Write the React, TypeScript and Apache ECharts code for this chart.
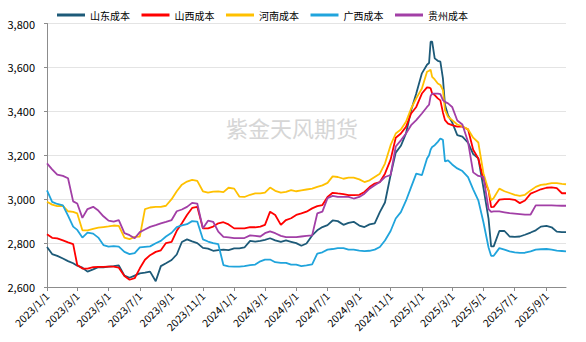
import React, { useEffect, useRef } from 'react';
import * as echarts from 'echarts';

// Sample dates
const dates: string[] = [
  '2023/1/1','2023/1/11','2023/1/21','2023/2/1','2023/2/11','2023/2/21','2023/3/1','2023/3/11','2023/3/21','2023/4/1','2023/4/11','2023/4/21',
  '2023/5/1','2023/5/11','2023/5/21','2023/6/1','2023/6/11','2023/6/21','2023/7/1','2023/7/11','2023/7/21','2023/8/1','2023/8/11','2023/8/21',
  '2023/9/1','2023/9/11','2023/9/21','2023/10/1','2023/10/11','2023/10/21','2023/11/1','2023/11/11','2023/11/21','2023/12/1','2023/12/11','2023/12/21',
  '2024/1/1','2024/1/11','2024/1/21','2024/2/1','2024/2/11','2024/2/21','2024/3/1','2024/3/11','2024/3/21','2024/4/1','2024/4/11','2024/4/21',
  '2024/5/1','2024/5/11','2024/5/21','2024/6/1','2024/6/11','2024/6/21','2024/7/1','2024/7/11','2024/7/21','2024/8/1','2024/8/11','2024/8/21',
  '2024/9/1','2024/9/11','2024/9/21','2024/10/1','2024/10/11','2024/10/21','2024/11/1','2024/11/11','2024/11/21','2024/12/1','2024/12/11','2024/12/21',
  '2025/1/1','2025/1/11','2025/1/15','2025/1/18','2025/1/21','2025/1/26','2025/2/1','2025/2/6','2025/2/11','2025/2/15','2025/2/21',
  '2025/3/1','2025/3/11','2025/3/21','2025/4/1','2025/4/11','2025/4/21','2025/5/1','2025/5/11','2025/5/16','2025/5/21',
  '2025/6/1','2025/6/11','2025/6/21','2025/7/1','2025/7/11','2025/7/21','2025/8/1','2025/8/11','2025/8/21',
  '2025/9/1','2025/9/11','2025/9/21','2025/10/1','2025/10/9',
];

const shandong: number[] = [
  2782,2750,2742,2730,2718,2708,2697,2688,2670,2680,2690,2690,2693,2695,2698,2652,2642,2652,
  2662,2665,2670,2626,2695,2708,2723,2748,2805,2817,2808,2800,2778,2775,2765,2768,2770,2768,
  2776,2776,2780,2810,2807,2810,2815,2822,2812,2805,2812,2806,2800,2788,2798,2835,2858,2873,
  2882,2903,2900,2883,2892,2897,2880,2873,2885,2890,2941,2985,3110,3212,3243,3299,3405,3481,
  3573,3612,3620,3717,3717,3641,3630,3626,3550,3430,3382,
  3350,3292,3285,3257,3205,3186,3052,2910,2785,2785,
  2855,2855,2830,2828,2830,2838,2848,2858,2875,
  2878,2872,2852,2850,2850,
];

const shanxi: number[] = [
  2840,2824,2821,2812,2803,2795,2700,2684,2684,2690,2692,2692,2693,2693,2688,2650,2633,2640,
  2685,2724,2745,2760,2767,2800,2805,2856,2890,2928,2960,2965,2867,2867,2875,2890,2895,2885,
  2867,2867,2867,2873,2872,2875,2883,2943,2928,2883,2905,2913,2928,2935,2943,2958,2968,2973,
  3010,3029,3026,3023,3018,3018,3020,3033,3055,3071,3078,3116,3180,3280,3299,3329,3390,3420,
  3481,3509,3508,3505,3481,3474,3459,3450,3395,3360,3344,
  3337,3330,3330,3318,3225,3185,3092,3040,2964,2965,
  2998,3000,3000,2997,2982,2994,3025,3035,3045,
  3052,3054,3050,3027,3027,
];

const henan: number[] = [
  2988,2975,2968,2970,2945,2942,2935,2858,2858,2865,2870,2873,2876,2880,2878,2825,2818,2828,
  2830,2955,2962,2965,2965,2970,3000,3036,3066,3080,3088,3083,3036,3030,3034,3035,3032,3052,
  3048,3012,3010,3020,3026,3026,3030,3053,3038,3030,3033,3041,3036,3040,3044,3048,3056,3063,
  3074,3104,3101,3093,3098,3098,3090,3078,3086,3101,3116,3162,3246,3299,3317,3352,3413,3459,
  3504,3580,3585,3590,3557,3545,3527,3520,3497,3405,3375,
  3360,3340,3332,3318,3280,3258,3118,3040,2995,3005,
  3048,3036,3028,3020,3015,3020,3040,3056,3065,
  3068,3073,3073,3070,3068,
];

const guangxi: number[] = [
  3040,2988,2978,2972,2925,2875,2860,2825,2848,2843,2825,2791,2784,2786,2784,2760,2750,2754,
  2780,2783,2785,2799,2810,2830,2847,2873,2881,2886,2900,2898,2817,2807,2800,2795,2700,2694,
  2693,2693,2695,2700,2702,2717,2725,2725,2713,2710,2710,2702,2702,2695,2698,2703,2752,2758,
  2770,2773,2777,2777,2770,2770,2766,2763,2765,2770,2782,2812,2855,2912,2941,2993,3055,3116,
  3109,3185,3200,3225,3238,3246,3261,3276,3270,3172,3177,
  3158,3140,3128,3100,3045,2995,2895,2780,2742,2742,
  2777,2770,2762,2758,2755,2756,2762,2770,2772,
  2773,2770,2766,2764,2762,
];

const guizhou: number[] = [
  3163,3136,3112,3106,3095,2990,2980,2915,2955,2965,2948,2922,2902,2898,2905,2845,2836,2822,
  2850,2862,2874,2882,2890,2897,2905,2945,2953,2965,2983,2980,2867,2902,2897,2852,2828,2826,
  2823,2823,2823,2835,2833,2830,2845,2853,2845,2833,2827,2827,2827,2830,2833,2835,2935,2943,
  3005,3015,3010,3010,3010,3003,3010,3025,3048,3063,3078,3101,3110,3240,3268,3299,3337,3360,
  3390,3420,3430,3470,3481,3481,3481,3478,3451,3443,3436,
  3420,3358,3340,3260,3122,3106,3102,2955,2942,2944,
  2944,2940,2936,2934,2932,2930,2930,2972,2972,
  2972,2972,2971,2970,2970,
];

const seriesNames = ['山东成本', '山西成本', '河南成本', '广西成本', '贵州成本'];
const seriesColors = ['#1d5a78', '#ff0000', '#ffc000', '#20a4dc', '#a23fa6'];
const seriesValues = [shandong, shanxi, henan, guangxi, guizhou];

const yMin = 2600;
const yMax = 3800;
const yStep = 200;
const watermark = '紫金天风期货';

const FONT = "'Noto Sans CJK SC', 'Noto Sans', sans-serif";

function buildCategories(): string[] {
  const out: string[] = [];
  const start = Date.UTC(2023, 0, 1);
  const end = Date.UTC(2025, 9, 9);
  for (let t = start; t <= end; t += 86400000) {
    const d = new Date(t);
    out.push(`${d.getUTCFullYear()}/${d.getUTCMonth() + 1}/${d.getUTCDate()}`);
  }
  return out;
}

const isTickDay = (_i: number, v: string) => /^\d{4}\/(1|3|5|7|9|11)\/1$/.test(v);

export default function App() {
  const ref = useRef<HTMLDivElement>(null);
  useEffect(() => {
    if (!ref.current) return;
    const chart = echarts.init(ref.current, null, { renderer: 'svg' });
    const categories = buildCategories();
    const indexOf = new Map<string, number>();
    categories.forEach((c, i) => indexOf.set(c, i));
    const series = seriesNames.map((name, s) => {
      const arr: (number | null)[] = new Array(categories.length).fill(null);
      dates.forEach((d, k) => {
        const i = indexOf.get(d);
        if (i !== undefined) arr[i] = seriesValues[s][k];
      });
      return {
        name,
        type: 'line',
        data: arr,
        connectNulls: true,
        symbol: 'none',
        showSymbol: false,
        lineStyle: { width: 1.8, color: seriesColors[s] },
        itemStyle: { color: seriesColors[s] },
        z: 3,
      };
    });
    chart.setOption({
      animation: false,
      backgroundColor: '#fff',
      color: seriesColors,
      textStyle: { fontFamily: FONT },
      legend: {
        top: 5,
        left: 52,
        icon: 'rect',
        itemWidth: 28,
        itemHeight: 3,
        itemGap: 11.5,
        textStyle: { fontSize: 10, color: '#000', fontFamily: FONT },
        data: seriesNames,
      },
      grid: { left: 47, right: 20, top: 23.5, bottom: 55 },
      xAxis: {
        type: 'category',
        data: categories,
        boundaryGap: false,
        axisLine: { lineStyle: { color: '#8c8c8c', width: 1 } },
        axisTick: { show: true, interval: isTickDay, length: 4, lineStyle: { color: '#8c8c8c' } },
        axisLabel: {
          interval: isTickDay,
          rotate: 45,
          fontSize: 10.5,
          color: '#000',
          margin: 7,
          fontFamily: FONT,
        },
        splitLine: { show: false },
      },
      yAxis: {
        type: 'value',
        min: yMin,
        max: yMax,
        interval: yStep,
        axisLine: { show: true, lineStyle: { color: '#8c8c8c', width: 1 } },
        axisTick: { show: true, length: 3, lineStyle: { color: '#8c8c8c' } },
        axisLabel: {
          fontSize: 11,
          color: '#000',
          margin: 12,
          fontFamily: FONT,
          formatter: (v: number) => {
            const th = Math.floor(v / 1000);
            const rest = String(v % 1000).padStart(3, '0');
            return `${th},${rest}`;
          },
        },
        splitLine: { show: true, lineStyle: { color: '#e4e4e4', width: 1 } },
      },
      graphic: [
        {
          type: 'text',
          left: 226,
          top: 116,
          silent: true,
          z: 0,
          style: {
            text: watermark,
            fill: '#d6d6d6',
            font: `22px ${FONT}`,
          },
        },
      ],
      series,
    });
    return () => chart.dispose();
  }, []);
  return (
    <div
      ref={ref}
      style={{ position: 'fixed', left: 0, top: 0, width: 586, height: 342, background: '#fff' }}
    />
  );
}
